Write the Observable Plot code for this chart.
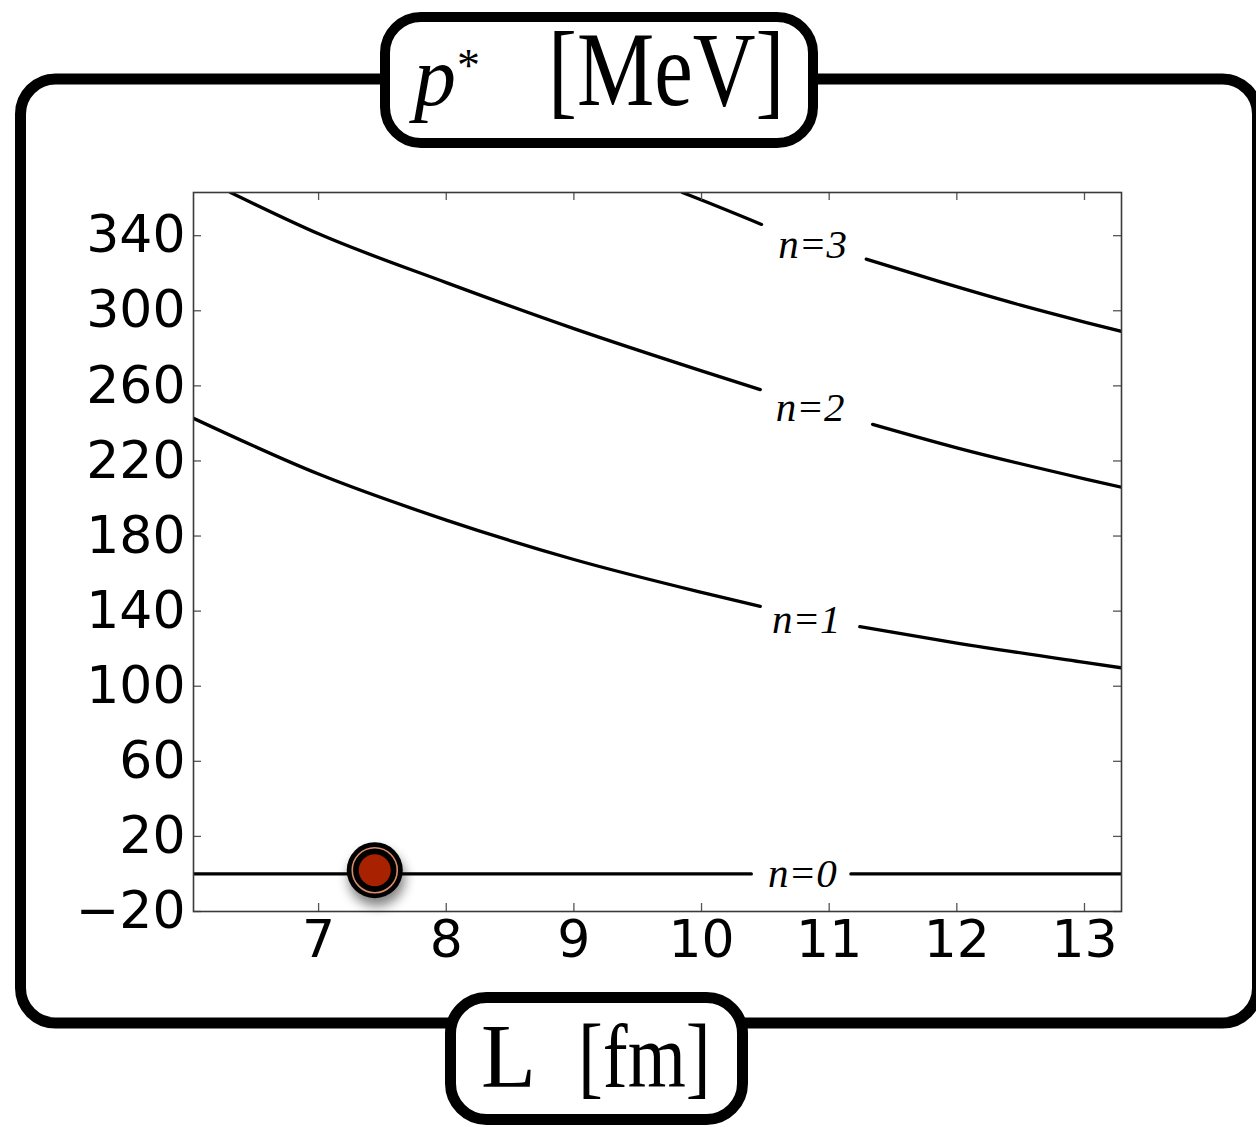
<!DOCTYPE html>
<html>
<head>
<meta charset="utf-8">
<script src="https://cdn.jsdelivr.net/npm/d3@7"></script>
<script src="https://cdn.jsdelivr.net/npm/@observablehq/plot@0.6"></script>
<style>
  body { margin: 0; background: white; }
  #wrap { position: relative; width: 1256px; height: 1127px; overflow: hidden; background: white; }
  #chart { position: absolute; left: 0; top: 0; }
  #deco { position: absolute; left: 0; top: 0; pointer-events: none; }
</style>
</head>
<body>
<div id="wrap">
  <div id="chart"></div>
  <svg id="deco" width="1256" height="1127" viewBox="0 0 1256 1127">
    <rect x="20.5" y="79" width="1237" height="944" rx="35" ry="35" fill="none" stroke="black" stroke-width="11"/>
    <rect x="385" y="17" width="428" height="126" rx="36" ry="36" fill="white" stroke="black" stroke-width="10"/>
    <rect x="450.5" y="997.5" width="292" height="122" rx="36" ry="36" fill="white" stroke="black" stroke-width="11"/>
    <text x="414" y="105" font-family="Liberation Serif" font-style="italic" font-size="84">p</text>
    <text x="457" y="81" font-family="Liberation Serif" font-size="46">*</text>
    <text transform="translate(548,105) scale(0.82,1)" font-family="Liberation Serif" font-size="106">[MeV]</text>
    <text x="481" y="1087" font-family="Liberation Serif" font-size="90">L</text>
    <text transform="translate(578,1087) scale(0.83,1)" font-family="Liberation Serif" font-size="90">[fm]</text>
  </svg>
</div>
<script>
// ---- data ----
const xTicks = [7, 8, 9, 10, 11, 12, 13];
const yTicks = [-20, 20, 60, 100, 140, 180, 220, 260, 300, 340];

const n0L = [6.02, 10.39, 11.17, 13.29];
const n0P = [0, 0, 0, 0];
const n0Seg = [0, 0, 1, 1];

const n1L = [6.02, 7, 8, 9, 10, 10.46, 11.24, 12, 13, 13.29];
const n1P = [242.7, 213, 188.5, 167.5, 150, 142.5, 131.7, 123, 112.7, 109.8];
const n1Seg = [0, 0, 0, 0, 0, 0, 1, 1, 1, 1];

const n2L = [6.31, 7, 8, 9, 10, 10.46, 11.34, 12, 13, 13.29];
const n2P = [363, 341, 315, 290.5, 268, 258, 239.5, 227, 210.5, 206];
const n2Seg = [0, 0, 0, 0, 0, 0, 1, 1, 1, 1];

const n3L = [9.85, 10, 10.47, 11.29, 11.865, 12.5, 13, 13.29];
const n3P = [363, 359, 346, 327.5, 315.5, 303, 294, 289];
const n3Seg = [0, 0, 0, 1, 1, 1, 1, 1];

const labelText = ["n=0", "n=1", "n=2", "n=3"];
const labelL = [10.79, 10.82, 10.85, 10.87];
const labelP = [-7.0, 128.3, 241.3, 328.1];

const markerL = [7.44];
const markerP = [2];

// ---- tables ----
const rows = [];
function add(n, Ls, Ps, Ss) { Ls.forEach((L, i) => rows.push({n, seg: Ss[i], L, p: Ps[i]})); }
add(0, n0L, n0P, n0Seg);
add(1, n1L, n1P, n1Seg);
add(2, n2L, n2P, n2Seg);
add(3, n3L, n3P, n3Seg);

const labels = labelText.map((t, i) => ({t, L: labelL[i], p: labelP[i]}));
const marker = markerL.map((L, i) => ({L, p: markerP[i]}));

const fmt = d => d < 0 ? "\u2212" + Math.abs(d) : String(d);

const W = 1256, H = 1127, mT = 192, mR = 135, mB = 216, mL = 193;
const pw = W - mL - mR, ph = H - mT - mB, tl = 8;

const chart = Plot.plot({
  width: W, height: H,
  marginTop: mT, marginRight: mR, marginBottom: mB, marginLeft: mL,
  style: {background: "transparent", fontFamily: "DejaVu Sans", fontSize: "52px", color: "black"},
  x: {domain: [6.02, 13.29]},
  y: {domain: [-20, 363]},
  marks: [
    Plot.line(rows, {x: "L", y: "p", z: d => d.n + "-" + d.seg, stroke: "black", strokeWidth: 3.3, curve: "monotone-x", clip: true}),
    Plot.tickY(yTicks, {y: d => d, insetRight: pw - tl, stroke: "#555", strokeWidth: 1.3}),
    Plot.tickY(yTicks, {y: d => d, insetLeft: pw - tl, stroke: "#555", strokeWidth: 1.3}),
    Plot.tickX(xTicks, {x: d => d, insetTop: ph - tl, stroke: "#555", strokeWidth: 1.3}),
    Plot.tickX(xTicks, {x: d => d, insetBottom: ph - tl, stroke: "#555", strokeWidth: 1.3}),
    Plot.frame({stroke: "#3a3a3a", strokeWidth: 1.6}),
    Plot.axisX({ticks: xTicks, tickSize: 0, tickPadding: 9, label: null, tickFormat: fmt, fontSize: 52}),
    Plot.axisY({ticks: yTicks, tickSize: 0, tickPadding: 8, label: null, tickFormat: fmt, fontSize: 52}),
    Plot.text(labels, {x: "L", y: "p", text: "t", fontFamily: "Liberation Serif", fontStyle: "italic", fontSize: 41, textAnchor: "middle", lineAnchor: "bottom", fill: "black"}),
    Plot.dot(marker, {x: "L", y: "p", r: 28, fill: "black"}),
    Plot.dot(marker, {x: "L", y: "p", r: 22.5, fill: "black", stroke: "#d98a6a", strokeWidth: 1.6}),
    Plot.dot(marker, {x: "L", y: "p", r: 16, fill: "#a82100"})
  ]
});

document.getElementById("chart").appendChild(chart);

// soft drop shadow under the marker
const svg = d3.select(chart);
const defs = svg.insert("defs", ":first-child");
const f = defs.append("filter").attr("id", "shadow").attr("x", "-80%").attr("y", "-80%").attr("width", "260%").attr("height", "260%");
f.append("feGaussianBlur").attr("in", "SourceAlpha").attr("stdDeviation", 6);
f.append("feOffset").attr("dx", 2).attr("dy", 8).attr("result", "b");
f.append("feComponentTransfer").call(s => s.append("feFuncA").attr("type", "linear").attr("slope", 0.5)).attr("result", "c");
const m = f.append("feMerge");
m.append("feMergeNode").attr("in", "c");
m.append("feMergeNode").attr("in", "SourceGraphic");
const dotGroups = svg.selectAll('g[aria-label="dot"]');
if (!dotGroups.empty()) d3.select(dotGroups.nodes()[0]).attr("filter", "url(#shadow)");
</script>
</body>
</html>
